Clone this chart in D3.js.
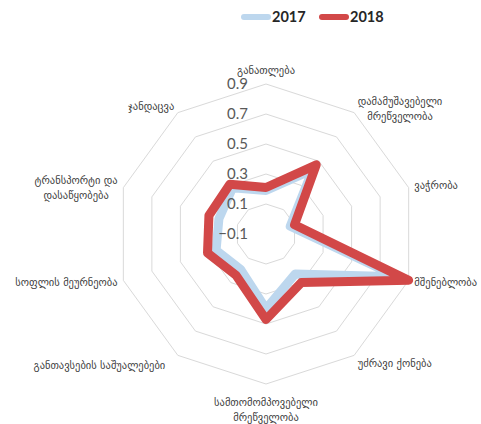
<!DOCTYPE html>
<html>
<head>
<meta charset="utf-8">
<script src="https://cdn.jsdelivr.net/npm/d3@7/dist/d3.min.js"></script>
<style>
  html, body { margin: 0; padding: 0; background: #fff; }
  svg { display: block; }
</style>
</head>
<body>
<svg id="chart" width="481" height="424"></svg>
<script>
// ---- data ----
const categories = [
  ["განათლება"],
  ["დამამუშავებელი", "მრეწველობა"],
  ["ვაჭრობა"],
  ["მშენებლობა"],
  ["უძრავი ქონება"],
  ["სამთომომპოვებელი", "მრეწველობა"],
  ["განთავსების საშუალებები"],
  ["სოფლის მეურნეობა"],
  ["ტრანსპორტი და", "დასაწყობება"],
  ["ჯანდაცვა"]
];
const seriesNames = ["2017", "2018"];
const values2017 = [0.19, 0.43, 0.07, 0.82, 0.23, 0.40, 0.19, 0.25, 0.23, 0.28];
const values2018 = [0.21, 0.47, 0.10, 0.90, 0.30, 0.47, 0.24, 0.31, 0.30, 0.31];
const tickValues = [-0.1, 0.1, 0.3, 0.5, 0.7, 0.9];

// ---- layout ----
const W = 481, H = 424;
const cx = 266, cy = 234, R = 150;
const colors = { "2017": "#BDD7EE", "2018": "#D24848" };
const labelNudge = [[0,-2],[0,1],[0,0],[0,0],[0,3],[0,0],[-9,5],[0,0],[0,2],[0,-1]];

const svg = d3.select("#chart");
const g = svg.append("g").attr("transform", `translate(${cx},${cy})`);

const n = categories.length;
const angle = d3.scaleLinear().domain([0, n]).range([0, 2 * Math.PI]);
const r = d3.scaleLinear().domain([-0.1, 0.9]).range([0, R]);

function pt(i, v) {
  const a = angle(i);
  return [r(v) * Math.sin(a), -r(v) * Math.cos(a)];
}

// grid rings
tickValues.forEach(t => {
  if (r(t) <= 0) return;
  const pts = d3.range(n).map(i => pt(i, t));
  g.append("path")
    .attr("d", d3.line()(pts) + "Z")
    .attr("fill", "none")
    .attr("stroke", "#D9D9D9")
    .attr("stroke-width", 1);
});

// series
const lineGen = d3.line().curve(d3.curveLinearClosed);
[["2017", values2017], ["2018", values2018]].forEach(([name, vals]) => {
  g.append("path")
    .attr("d", lineGen(vals.map((v, i) => pt(i, v))))
    .attr("fill", "none")
    .attr("stroke", colors[name])
    .attr("stroke-width", 9)
    .attr("stroke-linejoin", "round");
});

// tick labels
g.selectAll("text.tick").data(tickValues).enter().append("text")
  .attr("class", "tick")
  .attr("x", -18)
  .attr("y", d => -r(d))
  .attr("dy", "0.35em")
  .attr("text-anchor", "end")
  .attr("font-family", "Lato, 'DejaVu Sans', sans-serif")
  .attr("font-size", 15)
  .attr("fill", "#595959")
  .text(d => d3.format(".1f")(d));

// category labels
const labelFont = "'DejaVu Sans', sans-serif";
categories.forEach((lines, i) => {
  const a = angle(i);
  const s = Math.sin(a), c = Math.cos(a);
  let [x, y] = [ (R + 6) * s, -(R + 6) * c ];
  const grp = g.append("g");
  const lh = 15;
  const texts = lines.map((ln, k) => grp.append("text")
    .attr("font-family", labelFont)
    .attr("font-size", 10.5)
    .attr("fill", "#404040")
    .attr("text-anchor", "middle")
    .attr("dy", "0.35em")
    .attr("y", k * lh)
    .text(ln));
  const bw = d3.max(texts, t => t.node().getComputedTextLength());
  const bh = (lines.length - 1) * lh;
  let bx, by;
  if (Math.abs(s) < 0.1) {
    bx = x;
    by = c > 0 ? y - 6 - bh : y + 12;
  } else {
    bx = s > 0 ? x + bw / 2 : x - bw / 2;
    by = y - bh / 2;
  }
  bx += labelNudge[i][0];
  by += labelNudge[i][1];
  grp.attr("transform", `translate(${bx},${by})`);
});

// legend
const legend = svg.append("g");
const legendItems = [
  { name: seriesNames[0], x: 242 },
  { name: seriesNames[1], x: 320 }
];
legendItems.forEach(it => {
  legend.append("line")
    .attr("x1", it.x + 2).attr("x2", it.x + 26)
    .attr("y1", 17).attr("y2", 17)
    .attr("stroke", colors[it.name])
    .attr("stroke-width", 6)
    .attr("stroke-linecap", "round");
  legend.append("text")
    .attr("x", it.x + 30).attr("y", 22)
    .attr("font-family", "Lato, 'DejaVu Sans', sans-serif")
    .attr("font-weight", "bold")
    .attr("font-size", 14.5)
    .attr("fill", "#262626")
    .text(it.name);
});
</script>
</body>
</html>
